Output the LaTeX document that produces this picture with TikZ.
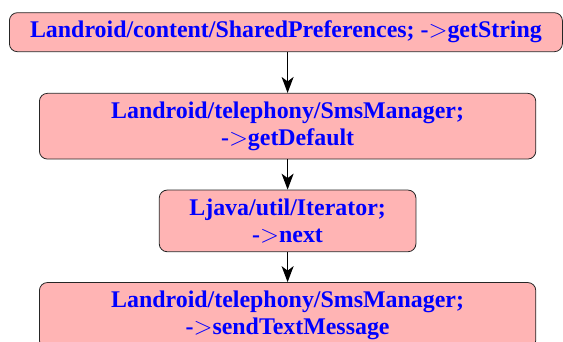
\documentclass[tikz,border=0pt]{standalone}
\usepackage{fontspec}
\setmainfont{Liberation Serif}
\usepackage{tikz}
\usetikzlibrary{arrows.meta, calc}
\definecolor{callpink}{RGB}{255,180,180}
\definecolor{callblue}{RGB}{0,0,255}

\begin{document}
\begin{tikzpicture}[x=1pt, y=-1pt,
		call/.style={draw=black!85, line width=0.8pt, fill=callpink, rounded corners=8pt, text=callblue, align=center, inner sep=0pt, font=\fontsize{23.9}{27}\selectfont\bfseries},
		flow/.style={line width=1.6pt, -{Stealth[length=16pt, width=12pt, inset=4.5pt]}}]
		\pgfmathsetmacro{\midx}{287.6}
		\pgfmathsetmacro{\widewidth}{496.4}
		\pgfmathsetmacro{\twoline}{65.7}
		\useasboundingbox (0,0) rectangle (563,342);
		
		\node[call, minimum width=553pt, minimum height=39pt] (getstring) at (285.9,32.2) {Landroid/content/SharedPreferences; -$>$getString};
		\node[call, minimum width=\widewidth pt, minimum height=\twoline pt] (getdefault) at (\midx,126.2) {Landroid/telephony/SmsManager;\\ -$>$getDefault};
		\node[call, minimum width=256.7pt, minimum height=61.7pt] (next) at (\midx,220.9) {Ljava/util/Iterator;\\ -$>$next};
		\node[call, minimum width=\widewidth pt, minimum height=\twoline pt] (sendtext) at (\midx,315.4) {Landroid/telephony/SmsManager;\\ -$>$sendTextMessage};
		
		\draw[flow] (getstring.south -| getdefault.north) -- (getdefault.north);
		\draw[flow] (getdefault) -- (next);
		\draw[flow] (next) -- (sendtext);
\end{tikzpicture}
\end{document}
